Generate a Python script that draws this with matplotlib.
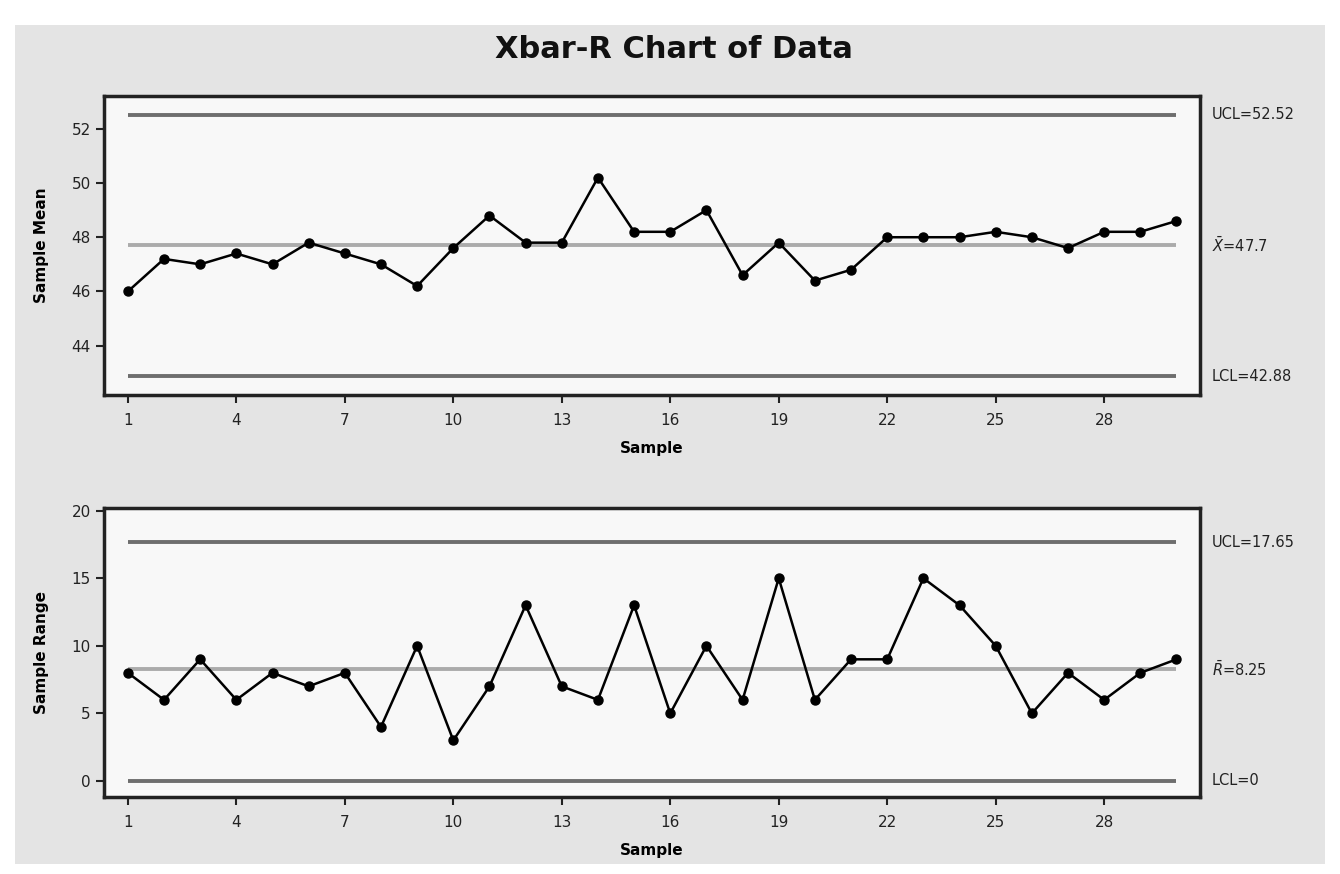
import matplotlib
matplotlib.use('Agg')
import matplotlib.pyplot as plt
from matplotlib.patches import Rectangle
import numpy as np

samples = np.arange(1, 31)
sample_mean = [46.0, 47.2, 47.0, 47.4, 47.0, 47.8, 47.4, 47.0, 46.2, 47.6,
               48.8, 47.8, 47.8, 50.2, 48.2, 48.2, 49.0, 46.6, 47.8, 46.4,
               46.8, 48.0, 48.0, 48.0, 48.2, 48.0, 47.6, 48.2, 48.2, 48.6]
sample_range = [8, 6, 9, 6, 8, 7, 8, 4, 10, 3,
                7, 13, 7, 6, 13, 5, 10, 6, 15, 6,
                9, 9, 15, 13, 10, 5, 8, 6, 8, 9]

xbar_limits = {'UCL': 52.52, 'CL': 47.7, 'LCL': 42.88}
r_limits = {'UCL': 17.65, 'CL': 8.25, 'LCL': 0}
xbar_labels = ['UCL=52.52', r'$\bar{X}$=47.7', 'LCL=42.88']
r_labels = ['UCL=17.65', r'$\bar{R}$=8.25', 'LCL=0']
xticks = [1, 4, 7, 10, 13, 16, 19, 22, 25, 28]

plt.rcParams['font.family'] = ['DejaVu Sans']
fig = plt.figure(figsize=(13.4, 8.74), dpi=100, facecolor='white')
# grey panel behind everything
fig.patches.append(Rectangle((15/1340, 1-864/874), 1310/1340, 839/874,
                             transform=fig.transFigure, facecolor='#e4e4e4',
                             edgecolor='none', zorder=-10))

fig.text(0.503, 1-50/874, 'Xbar-R Chart of Data', ha='center', va='center',
         fontsize=22, fontweight='bold', color='#111111')

ax1 = fig.add_axes([104/1340, 1-395/874, 1096/1340, 299/874])
ax2 = fig.add_axes([104/1340, 1-797/874, 1096/1340, 289/874])


def draw(ax, values, limits, labels, ylabel, ylim, yticks):
    ax.set_facecolor('#f8f8f8')
    ax.hlines(limits['UCL'], 1, 30, color='#6e6e6e', lw=2.8, zorder=2)
    ax.hlines(limits['LCL'], 1, 30, color='#6e6e6e', lw=2.8, zorder=2)
    ax.hlines(limits['CL'], 1, 30, color='#ababab', lw=2.8, zorder=2)
    ax.plot(samples, values, color='black', lw=1.8, marker='o', ms=6.5, zorder=3)
    ax.set_xlim(0.34, 30.65)
    ax.set_ylim(*ylim)
    ax.set_xticks(xticks)
    ax.set_yticks(yticks)
    ax.tick_params(direction='out', length=6, width=1.5, labelsize=11,
                   colors='#222222')
    ax.tick_params(axis='x', pad=7)
    for s in ax.spines.values():
        s.set_linewidth(2.5)
        s.set_color('#222222')
    ax.set_xlabel('Sample', fontsize=11, fontweight='bold', labelpad=9)
    ax.set_ylabel(ylabel, fontsize=11, fontweight='bold', labelpad=16)
    tr = ax.get_yaxis_transform()
    for key, lab in zip(['UCL', 'CL', 'LCL'], labels):
        ax.text(1.011, limits[key], lab, transform=tr, ha='left', va='center',
                fontsize=10.5, color='#222222', clip_on=False)


draw(ax1, sample_mean, xbar_limits, xbar_labels, 'Sample Mean',
     (42.18, 53.21), [44, 46, 48, 50, 52])
draw(ax2, sample_range, r_limits, r_labels, 'Sample Range',
     (-1.19, 20.2), [0, 5, 10, 15, 20])

fig.savefig('out.png', dpi=100, facecolor=fig.get_facecolor())
